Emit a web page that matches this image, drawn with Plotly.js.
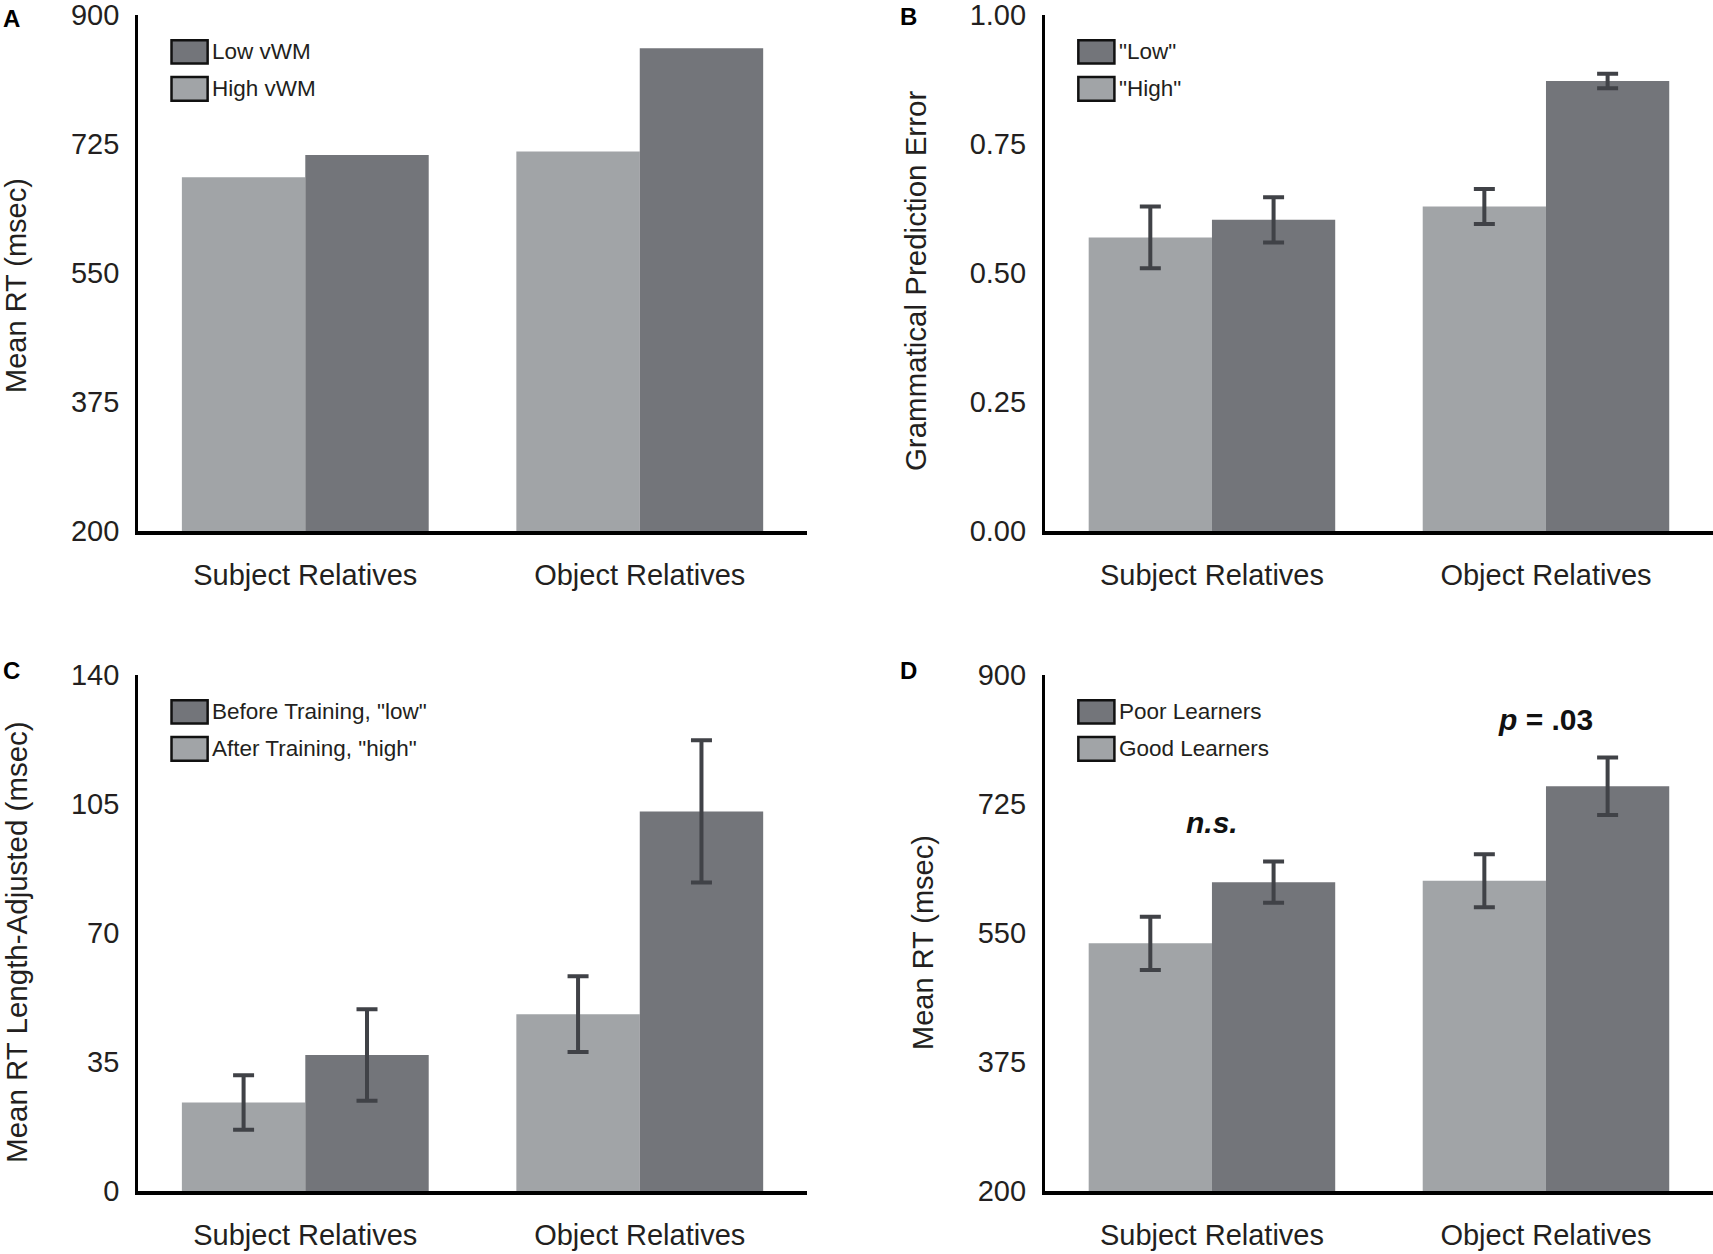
<!DOCTYPE html>
<html>
<head>
<meta charset="utf-8">
<script src="https://cdn.plot.ly/plotly-3.0.1.min.js"></script>
<style>html,body{margin:0;padding:0;background:#fff;}#chart{width:1713px;height:1254px;}</style>
</head>
<body>
<div id="chart"></div>
<script>
// ---- data ----
const categories = ['Subject Relatives', 'Object Relatives'];

const panelA_labels = ['Low vWM', 'High vWM'];
const panelA_low = [710, 855];
const panelA_high = [680, 715];
const panelA_ticks = [200, 375, 550, 725, 900];

const panelB_labels = ['"Low"', '"High"'];
const panelB_low = [0.603, 0.872];
const panelB_low_err = [0.044, 0.014];
const panelB_high = [0.569, 0.629];
const panelB_high_err = [0.060, 0.034];
const panelB_ticks = [0, 0.25, 0.5, 0.75, 1.0];

const panelC_labels = ['Before Training, "low"', 'After Training, "high"'];
const panelC_low = [36.9, 103.0];
const panelC_low_err = [12.4, 19.3];
const panelC_high = [24.0, 48.0];
const panelC_high_err = [7.4, 10.3];
const panelC_ticks = [0, 35, 70, 105, 140];

const panelD_labels = ['Poor Learners', 'Good Learners'];
const panelD_low = [619, 749];
const panelD_low_err = [28, 39];
const panelD_high = [536, 621];
const panelD_high_err = [36, 36];
const panelD_ticks = [200, 375, 550, 725, 900];

const panelD_notes = ['<b><i>n.s.</i></b>', '<b><i>p</i> = .03</b>'];
const panelD_noteY = [700, 840];

// ---- styles ----
const FONT = 'Liberation Sans, Arial, Helvetica, sans-serif';
const LIGHT = '#a1a4a7';
const DARK = '#73757a';
const ERR = '#404247';
const TXT = '#231f20';

function errObj(arr) {
  if (!arr) return {visible: false};
  return {type: 'data', array: arr, visible: true, color: ERR, thickness: 4, width: 10.5};
}

const panels = [
  {k: '', labels: panelA_labels, low: panelA_low, high: panelA_high, lowErr: null, highErr: null,
   ticks: panelA_ticks, range: [200, 900], fmt: null, title: 'Mean RT (msec)', tsize: 29, letter: 'A'},
  {k: '2', labels: panelB_labels, low: panelB_low, high: panelB_high, lowErr: panelB_low_err, highErr: panelB_high_err,
   ticks: panelB_ticks, range: [0, 1], fmt: '.2f', title: 'Grammatical Prediction Error', tsize: 29.5, letter: 'B'},
  {k: '3', labels: panelC_labels, low: panelC_low, high: panelC_high, lowErr: panelC_low_err, highErr: panelC_high_err,
   ticks: panelC_ticks, range: [0, 140], fmt: null, title: 'Mean RT Length-Adjusted (msec)', tsize: 29.5, letter: 'C'},
  {k: '4', labels: panelD_labels, low: panelD_low, high: panelD_high, lowErr: panelD_low_err, highErr: panelD_high_err,
   ticks: panelD_ticks, range: [200, 900], fmt: null, title: 'Mean RT (msec)', tsize: 29, letter: 'D'}
];

const xDomains = [[0.0806, 0.4711], [0.6100, 1.0], [0.0806, 0.4711], [0.6100, 1.0]];
const yDomains = [[0.5766, 0.988], [0.5766, 0.988], [0.0502, 0.4617], [0.0502, 0.4617]];
const letterPos = [[0.0067, 0.9856], [0.5306, 0.9869], [0.0067, 0.4657], [0.5306, 0.4657]];
const titlePos = [[0.0093, 0.7727], [0.5342, 0.7759], [0.0093, 0.2488], [0.5388, 0.2488]];

const data = [];
const layout = {
  width: 1713, height: 1254,
  margin: {l: 0, r: 0, t: 0, b: 0},
  paper_bgcolor: '#fff', plot_bgcolor: '#fff',
  barmode: 'group', bargap: 0.262, bargroupgap: 0,
  showlegend: false,
  font: {family: FONT, color: TXT},
  shapes: [], annotations: []
};

panels.forEach((p, i) => {
  const xa = 'x' + p.k, ya = 'y' + p.k;
  data.push({type: 'bar', x: categories, y: p.high, name: p.labels[1], xaxis: xa, yaxis: ya,
    marker: {color: LIGHT, line: {width: 0}}, error_y: errObj(p.highErr), hoverinfo: 'y'});
  data.push({type: 'bar', x: categories, y: p.low, name: p.labels[0], xaxis: xa, yaxis: ya,
    marker: {color: DARK, line: {width: 0}}, error_y: errObj(p.lowErr), hoverinfo: 'y'});

  layout['xaxis' + p.k] = {
    domain: xDomains[i], anchor: ya, type: 'category',
    showline: true, linecolor: '#000', linewidth: 4,
    ticks: '', showgrid: false, zeroline: false,
    tickfont: {family: FONT, size: 29, color: TXT}, ticklabelstandoff: 15,
    ticklabeloverflow: 'allow', fixedrange: true
  };
  const yax = {
    domain: yDomains[i], anchor: xa, range: p.range,
    tickmode: 'array', tickvals: p.ticks,
    showline: true, linecolor: '#000', linewidth: 3,
    ticks: '', showgrid: false, zeroline: false,
    tickfont: {family: FONT, size: 29, color: TXT}, ticklabelstandoff: 10,
    ticklabeloverflow: 'allow', fixedrange: true
  };
  if (p.fmt) yax.tickformat = p.fmt;
  layout['yaxis' + p.k] = yax;

  // y-axis title
  layout.annotations.push({xref: 'paper', yref: 'paper', x: titlePos[i][0], y: titlePos[i][1],
    xanchor: 'center', yanchor: 'middle', textangle: -90, text: p.title, showarrow: false,
    font: {family: FONT, size: p.tsize, color: TXT}});

  // legend swatches
  const xr = xa + ' domain', yr = ya + ' domain';
  const rows = [[0.906, 0.951, DARK, 0.929, p.labels[0]], [0.834, 0.880, LIGHT, 0.858, p.labels[1]]];
  rows.forEach(r => {
    layout.shapes.push({type: 'rect', xref: xr, yref: yr, x0: 0.050, x1: 0.104, y0: r[0], y1: r[1],
      fillcolor: r[2], line: {color: '#111', width: 2.5}});
    layout.annotations.push({xref: xr, yref: yr, x: 0.108, y: r[3], xanchor: 'left', yanchor: 'middle',
      text: r[4], showarrow: false, font: {family: FONT, size: 22.5, color: TXT}});
  });

  layout.annotations.push({xref: 'paper', yref: 'paper', x: letterPos[i][0], y: letterPos[i][1],
    xanchor: 'center', yanchor: 'middle', text: '<b>' + p.letter + '</b>', showarrow: false,
    font: {family: FONT, size: 24, color: '#000'}});
});

categories.forEach((c, j) => {
  layout.annotations.push({xref: 'x4', yref: 'y4', x: c, y: panelD_noteY[j], text: panelD_notes[j],
    showarrow: false, xanchor: 'center', yanchor: 'middle', font: {family: FONT, size: 30, color: '#111'}});
});

Plotly.newPlot('chart', data, layout, {displayModeBar: false, staticPlot: true});
</script>
</body>
</html>
